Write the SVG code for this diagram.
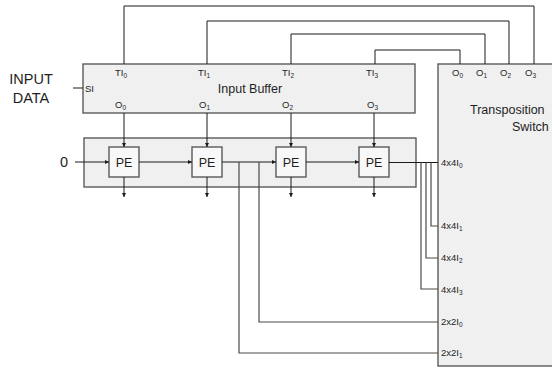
<svg xmlns="http://www.w3.org/2000/svg" width="552" height="371" viewBox="0 0 552 371">
<style>
.box{fill:#f0f0f0;stroke:#5a5a5a;stroke-width:1.4}
.pe{fill:#f8f8f8;stroke:#5a5a5a;stroke-width:1.4}
.ln{fill:none;stroke:#1a1a1a;stroke-width:1}
.ln2{fill:none;stroke:#4a4a4a;stroke-width:1.2}
text{font-family:"Liberation Sans",Arial,sans-serif;fill:#1e1e1e}
.sm{font-size:9.5px}
.sub{font-size:6.5px}
.md{font-size:12.5px}
.lg{font-size:14.5px}
</style>
<defs>
<marker id="ar" markerUnits="userSpaceOnUse" markerWidth="5" markerHeight="5" refX="4" refY="2" orient="auto">
<path d="M0,0 L4,2 L0,4 z" fill="#1a1a1a"/>
</marker>
</defs>
<rect width="552" height="371" fill="#fff"/>
<g id="input-data-label">
<text class="lg" x="31" y="84" text-anchor="middle">INPUT</text>
<text class="lg" x="31" y="103" text-anchor="middle">DATA</text>
</g>
<g id="zero-label"><text class="lg" x="64" y="167" text-anchor="middle">0</text></g>
<g id="input-buffer">
<rect class="box" x="83" y="64" width="332" height="49"/>
<text class="sm" x="85" y="92">SI</text>
<text class="md" x="250" y="93" text-anchor="middle">Input Buffer</text>
<text class="sm" x="115" y="76">TI<tspan class="sub" dy="1.5">0</tspan></text>
<text class="sm" x="198" y="76">TI<tspan class="sub" dy="1.5">1</tspan></text>
<text class="sm" x="282" y="76">TI<tspan class="sub" dy="1.5">2</tspan></text>
<text class="sm" x="366" y="76">TI<tspan class="sub" dy="1.5">3</tspan></text>
<text class="sm" x="115" y="108">O<tspan class="sub" dy="1.5">0</tspan></text>
<text class="sm" x="199" y="108">O<tspan class="sub" dy="1.5">1</tspan></text>
<text class="sm" x="282" y="108">O<tspan class="sub" dy="1.5">2</tspan></text>
<text class="sm" x="367" y="108">O<tspan class="sub" dy="1.5">3</tspan></text>
</g>
<g id="pe-array">
<rect class="box" x="84" y="138" width="332" height="49"/>
</g>
<g id="pe0"><rect class="pe" x="109" y="147" width="30" height="30"/><text class="md" x="124" y="166.5" text-anchor="middle">PE</text></g>
<g id="pe1"><rect class="pe" x="192" y="147" width="30" height="30"/><text class="md" x="207" y="166.5" text-anchor="middle">PE</text></g>
<g id="pe2"><rect class="pe" x="276" y="147" width="30" height="30"/><text class="md" x="291" y="166.5" text-anchor="middle">PE</text></g>
<g id="pe3"><rect class="pe" x="359" y="147" width="30" height="30"/><text class="md" x="374" y="166.5" text-anchor="middle">PE</text></g>
<g id="transposition-switch">
<rect class="box" x="438" y="64" width="130" height="302"/>
<text class="sm" x="452" y="76">O<tspan class="sub" dy="1.5">0</tspan></text>
<text class="sm" x="476" y="76">O<tspan class="sub" dy="1.5">1</tspan></text>
<text class="sm" x="500" y="76">O<tspan class="sub" dy="1.5">2</tspan></text>
<text class="sm" x="525" y="76">O<tspan class="sub" dy="1.5">3</tspan></text>
<text class="md" x="470" y="114">Transposition</text>
<text class="md" x="512" y="131">Switch</text>
<text class="sm" x="441" y="166">4x4I<tspan class="sub" dy="1.5">0</tspan></text>
<text class="sm" x="441" y="229">4x4I<tspan class="sub" dy="1.5">1</tspan></text>
<text class="sm" x="441" y="261">4x4I<tspan class="sub" dy="1.5">2</tspan></text>
<text class="sm" x="441" y="293">4x4I<tspan class="sub" dy="1.5">3</tspan></text>
<text class="sm" x="441" y="325">2x2I<tspan class="sub" dy="1.5">0</tspan></text>
<text class="sm" x="441" y="356">2x2I<tspan class="sub" dy="1.5">1</tspan></text>
</g>
<g id="connectors">
<polyline class="ln" points="124,64 124,6 534,6 534,64"/>
<polyline class="ln" points="207,64 207,21 509,21 509,64"/>
<polyline class="ln" points="291,64 291,34 485,34 485,64"/>
<polyline class="ln" points="375,64 375,50 460,50 460,64"/>
<line class="ln" x1="73" y1="88" x2="83" y2="88"/>
<line class="ln" x1="124" y1="113" x2="124" y2="147" marker-end="url(#ar)"/>
<line class="ln" x1="207" y1="113" x2="207" y2="147" marker-end="url(#ar)"/>
<line class="ln" x1="291" y1="113" x2="291" y2="147" marker-end="url(#ar)"/>
<line class="ln" x1="374" y1="113" x2="374" y2="147" marker-end="url(#ar)"/>
<line class="ln" x1="124" y1="177" x2="124" y2="197" marker-end="url(#ar)"/>
<line class="ln" x1="207" y1="177" x2="207" y2="197" marker-end="url(#ar)"/>
<line class="ln" x1="291" y1="177" x2="291" y2="197" marker-end="url(#ar)"/>
<line class="ln" x1="374" y1="177" x2="374" y2="197" marker-end="url(#ar)"/>
<line class="ln" x1="75" y1="162" x2="109" y2="162" marker-end="url(#ar)"/>
<line class="ln" x1="139" y1="162" x2="192" y2="162" marker-end="url(#ar)"/>
<line class="ln" x1="222" y1="162" x2="276" y2="162" marker-end="url(#ar)"/>
<line class="ln" x1="306" y1="162" x2="359" y2="162" marker-end="url(#ar)"/>
<line class="ln" x1="389" y1="162.5" x2="438" y2="162.5"/>
<polyline class="ln2" points="431,162.5 431,226 438,226"/>
<polyline class="ln2" points="426,162.5 426,258 438,258"/>
<polyline class="ln2" points="421,162.5 421,289 438,289"/>
<polyline class="ln2" points="259,162 259,322 438,322"/>
<polyline class="ln2" points="239,162 239,353 438,353"/>
</g>
</svg>
